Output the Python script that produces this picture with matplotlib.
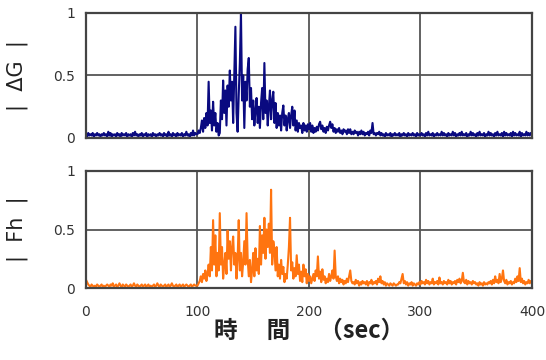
import numpy as np
import matplotlib
matplotlib.use("Agg")
import matplotlib.pyplot as plt

dg = [
    .03, .01, .04, .02, .03, .02, .04, .01, .03, .02, .04, .02, .03, .01, .03, .02, .04, .02, .03, .01,
    .05, .02, .04, .01, .03, .02, .03, .01, .04, .02, .03, .01, .04, .02, .03, .02, .04, .01, .03, .02,
    .03, .01, .04, .02, .05, .02, .03, .01, .03, .02, .04, .01, .03, .02, .04, .01, .03, .02, .03, .01,
    .04, .02, .03, .01, .03, .02, .04, .02, .03, .01, .04, .02, .03, .01, .05, .02, .03, .01, .04, .02,
    .03, .01, .04, .02, .03, .02, .04, .01, .03, .02, .05, .02, .03, .01, .04, .02, .06, .02, .04, .03,
    .03, .06, .04, .08, .14, .05, .16, .08, .20, .10, .45, .12, .22, .06, .29, .10, .20, .05, .12, .02,
    .04, .30, .15, .46, .20, .38, .10, .42, .25, .54, .30, .45, .12, .50, .89, .20, .05, .35, .60, 1.0,
    .30, .50, .08, .45, .30, .55, .64, .25, .40, .15, .30, .10, .22, .32, .12, .25, .08, .28, .40, .15,
    .60, .20, .30, .10, .25, .38, .15, .30, .37, .12, .28, .08, .20, .10, .18, .06, .20, .26, .10, .18,
    .06, .15, .20, .08, .18, .25, .10, .22, .06, .14, .05, .12, .08, .10, .04, .12, .06, .10, .05, .11,
    .07, .12, .05, .10, .04, .08, .05, .09, .06, .11, .13, .07, .10, .05, .08, .04, .09, .06, .10, .13,
    .08, .11, .05, .08, .04, .07, .05, .08, .04, .06, .03, .07, .05, .06, .03, .07, .04, .07, .03, .05,
    .03, .06, .04, .05, .02, .05, .03, .06, .03, .05, .02, .04, .03, .05, .02, .06, .04, .12, .03, .04,
    .02, .04, .03, .05, .02, .04, .02, .03, .01, .04, .02, .03, .02, .04, .01, .03, .02, .04, .02, .03,
    .02, .04, .01, .03, .02, .04, .02, .03, .01, .04, .02, .03, .02, .04, .02, .03, .01, .04, .02, .03,
    .02, .04, .02, .03, .01, .04, .02, .05, .02, .03, .02, .04, .01, .03, .02, .04, .02, .03, .02, .05,
    .02, .04, .02, .03, .01, .04, .02, .03, .02, .05, .02, .04, .01, .03, .02, .04, .02, .05, .02, .03,
    .02, .04, .01, .03, .02, .05, .02, .04, .02, .03, .01, .04, .02, .05, .02, .03, .02, .04, .01, .03,
    .02, .05, .02, .04, .02, .03, .01, .04, .02, .05, .02, .03, .02, .04, .01, .05, .02, .04, .02, .03,
    .02, .04, .01, .05, .02, .04, .02, .03, .02, .05, .01, .04, .02, .03, .02, .05, .02, .04, .02, .04,
    .03,
]

# |Fh| sampled every second, 0..400 s
fh = [
    .07, .05, .03, .02, .01, .03, .02, .01, .02, .01, .03, .02, .01, .02, .03, .01, .02, .01, .02, .03,
    .02, .01, .03, .02, .04, .01, .02, .03, .01, .02, .04, .02, .01, .03, .02, .01, .03, .02, .01, .02,
    .03, .01, .02, .04, .02, .01, .03, .02, .01, .02, .03, .01, .02, .03, .01, .02, .03, .01, .02, .01,
    .02, .03, .01, .02, .04, .02, .01, .03, .02, .01, .02, .03, .01, .02, .03, .01, .02, .04, .02, .01,
    .02, .03, .01, .02, .03, .01, .02, .03, .01, .02, .03, .02, .01, .02, .03, .01, .02, .03, .02, .02,
    .02, .04, .06, .10, .05, .12, .08, .15, .06, .12, .20, .10, .35, .15, .58, .20, .45, .10, .30, .15,
    .64, .20, .35, .08, .20, .30, .12, .49, .25, .40, .15, .35, .44, .20, .30, .08, .25, .58, .15, .30,
    .10, .22, .40, .20, .64, .25, .10, .24, .05, .15, .30, .10, .34, .15, .25, .12, .53, .20, .45, .30,
    .60, .25, .50, .35, .55, .30, .84, .20, .40, .33, .15, .35, .10, .20, .08, .24, .12, .18, .05, .12,
    .08, .20, .35, .60, .15, .22, .08, .17, .10, .28, .12, .20, .06, .14, .05, .20, .10, .16, .04, .12,
    .06, .10, .04, .08, .12, .06, .15, .10, .27, .08, .14, .05, .16, .07, .10, .04, .08, .05, .12, .06,
    .10, .15, .08, .32, .10, .06, .10, .04, .08, .05, .07, .03, .06, .04, .08, .05, .10, .15, .06, .04,
    .05, .03, .07, .04, .06, .02, .05, .03, .06, .04, .05, .03, .06, .02, .05, .04, .07, .03, .05, .04,
    .06, .03, .08, .05, .10, .04, .06, .03, .05, .02, .04, .03, .02, .04, .03, .02, .04, .03, .02, .03,
    .03, .05, .04, .08, .12, .04, .06, .03, .05, .02, .04, .03, .05, .02, .04, .03, .02, .04, .03, .05,
    .03, .06, .04, .05, .03, .07, .04, .06, .03, .05, .04, .08, .03, .05, .04, .06, .03, .09, .04, .05,
    .03, .06, .04, .05, .03, .07, .04, .06, .03, .05, .04, .06, .03, .07, .05, .08, .04, .06, .13, .05,
    .04, .07, .03, .06, .04, .05, .03, .06, .04, .05, .03, .04, .02, .05, .03, .04, .02, .05, .03, .04,
    .03, .05, .04, .06, .03, .07, .04, .10, .05, .07, .04, .12, .05, .08, .15, .06, .04, .07, .03, .05,
    .04, .06, .03, .05, .04, .08, .05, .10, .06, .17, .05, .08, .04, .06, .03, .05, .04, .07, .04, .06,
    .05,
]

t = np.arange(len(dg))
xticks = [0, 100, 200, 300, 400]
yticks = [0, 0.5, 1]
yticklabels = ["0", "0.5", "1"]

fig = plt.figure(figsize=(5.46, 3.6), dpi=100)
ax1 = fig.add_axes([0.1575, 0.6167, 0.8168, 0.3472])
ax2 = fig.add_axes([0.1575, 0.2, 0.8168, 0.325])

for ax, y, col, lab in [(ax1, dg, "#0a0a80", "|  ΔG  |"), (ax2, fh, "#ff7410", "|  Fh  |")]:
    ax.plot(t, y, color=col, lw=1.5)
    ax.set_xlim(0, 400)
    ax.set_ylim(0, 1)
    ax.set_xticks(xticks)
    ax.set_yticks(yticks)
    ax.set_yticklabels(yticklabels)
    ax.grid(True, color="#555555", lw=1.3)
    ax.set_axisbelow(True)
    ax.tick_params(length=0, labelsize=10, colors="#333333", pad=8)
    for lbl in ax.get_xticklabels() + ax.get_yticklabels():
        lbl.set_fontweight("medium")
    for s in ax.spines.values():
        s.set_color("#444444")
        s.set_linewidth(1.6)
    ax.set_ylabel(lab, fontsize=15, color="#222222")
    ax.yaxis.set_label_coords(-0.13, 0.5)

ax1.set_xticklabels([])
ax2.tick_params(axis="x", pad=12)
ax2.set_xlabel("時　 間　 （sec）", fontsize=17, fontweight="bold", color="#222222",
               family=["Noto Sans CJK JP", "DejaVu Sans"], labelpad=0)

fig.savefig("out.png", dpi=100)
